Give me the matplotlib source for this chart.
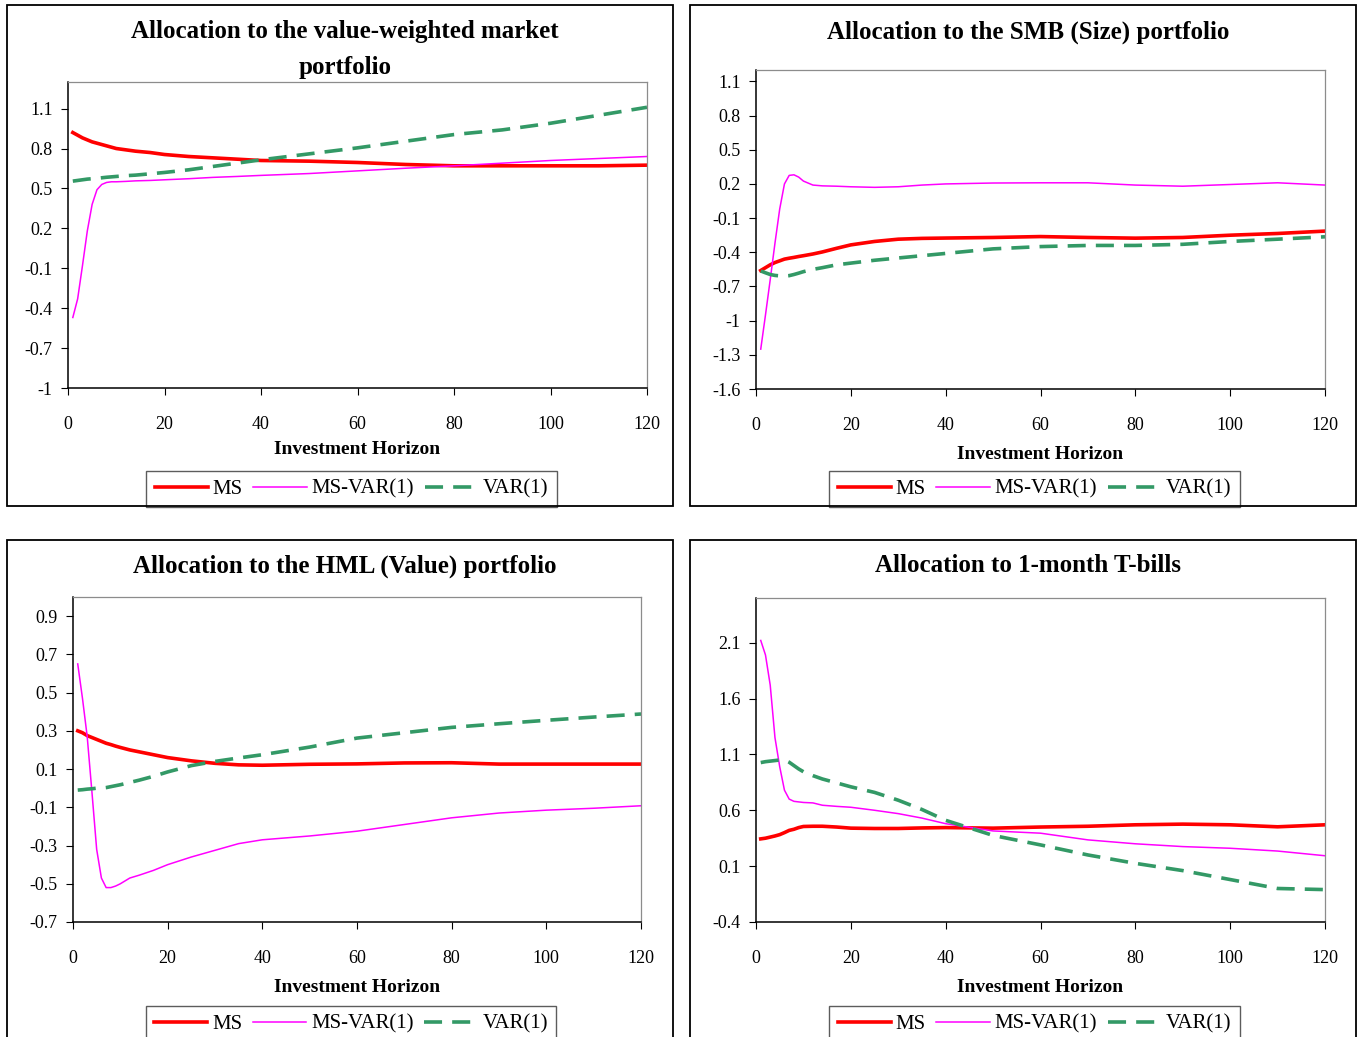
import matplotlib
matplotlib.use('Agg')
import matplotlib.pyplot as plt
from matplotlib.patches import Rectangle

plt.rcParams['font.family'] = ['Liberation Serif', 'DejaVu Serif']

# investment horizon (months) at which allocations are listed
horizon = [1, 2, 3, 4, 5, 6, 7, 8, 9, 10, 12, 14, 17, 20, 25, 30, 35, 40,
           50, 60, 70, 80, 90, 100, 110, 120]

mkt_ms = [0.92, 0.90, 0.88, 0.865, 0.85, 0.84, 0.83, 0.82, 0.81, 0.80, 0.79, 0.78, 0.77,
          0.755, 0.74, 0.73, 0.72, 0.71, 0.705, 0.695, 0.68, 0.67, 0.67, 0.67, 0.67, 0.675]
mkt_msvar = [-0.47, -0.33, -0.08, 0.18, 0.38, 0.49, 0.53, 0.545, 0.55, 0.55, 0.553, 0.557,
             0.56, 0.565, 0.573, 0.583, 0.59, 0.598, 0.612, 0.632, 0.652, 0.67, 0.69,
             0.71, 0.725, 0.74]
mkt_var = [0.555, 0.56, 0.565, 0.57, 0.573, 0.576, 0.58, 0.584, 0.587, 0.59, 0.596, 0.60,
           0.61, 0.62, 0.64, 0.665, 0.69, 0.715, 0.76, 0.805, 0.855, 0.905, 0.94, 0.99,
           1.05, 1.11]

smb_ms = [-0.56, -0.535, -0.51, -0.49, -0.475, -0.46, -0.452, -0.445, -0.437, -0.43,
          -0.415, -0.397, -0.365, -0.335, -0.305, -0.285, -0.278, -0.275, -0.27, -0.262,
          -0.27, -0.276, -0.27, -0.25, -0.235, -0.214]
smb_msvar = [-1.25, -0.95, -0.64, -0.32, -0.02, 0.2, 0.275, 0.28, 0.26, 0.225, 0.19, 0.183,
             0.18, 0.175, 0.17, 0.175, 0.19, 0.2, 0.208, 0.21, 0.21, 0.19, 0.18, 0.195,
             0.21, 0.19]
smb_var = [-0.564, -0.58, -0.595, -0.603, -0.607, -0.608, -0.605, -0.595, -0.583, -0.57,
           -0.55, -0.535, -0.51, -0.495, -0.47, -0.45, -0.43, -0.41, -0.37, -0.35, -0.34,
           -0.34, -0.33, -0.305, -0.285, -0.264]

hml_ms = [0.30, 0.29, 0.275, 0.265, 0.255, 0.245, 0.235, 0.228, 0.22, 0.213, 0.2, 0.19,
          0.175, 0.16, 0.143, 0.13, 0.122, 0.12, 0.125, 0.127, 0.132, 0.133, 0.126, 0.126,
          0.126, 0.126]
hml_msvar = [0.65, 0.47, 0.27, -0.02, -0.32, -0.47, -0.52, -0.52, -0.512, -0.5, -0.47,
             -0.455, -0.43, -0.40, -0.36, -0.325, -0.29, -0.27, -0.25, -0.225, -0.19,
             -0.155, -0.13, -0.115, -0.105, -0.092]
hml_var = [-0.01, -0.008, -0.005, -0.003, 0.0, 0.0, 0.003, 0.008, 0.013, 0.018, 0.03, 0.042,
           0.062, 0.085, 0.118, 0.14, 0.158, 0.175, 0.215, 0.262, 0.29, 0.318, 0.337,
           0.355, 0.372, 0.388]

tb_ms = [0.344, 0.35, 0.36, 0.37, 0.382, 0.40, 0.42, 0.43, 0.445, 0.455, 0.457, 0.457,
         0.45, 0.44, 0.437, 0.437, 0.442, 0.445, 0.44, 0.45, 0.457, 0.47, 0.476, 0.47,
         0.452, 0.47]
tb_msvar = [2.12, 1.99, 1.72, 1.25, 0.99, 0.78, 0.70, 0.68, 0.675, 0.67, 0.666, 0.645,
            0.635, 0.627, 0.6, 0.57, 0.53, 0.48, 0.415, 0.395, 0.335, 0.3, 0.275, 0.26,
            0.235, 0.193]
tb_var = [1.027, 1.035, 1.04, 1.045, 1.05, 1.05, 1.03, 1.0, 0.97, 0.945, 0.91, 0.88,
          0.845, 0.81, 0.76, 0.69, 0.607, 0.51, 0.375, 0.29, 0.2, 0.125, 0.06, -0.02,
          -0.10, -0.11]

titles = ['Allocation to the value-weighted market\nportfolio',
          'Allocation to the SMB (Size) portfolio',
          'Allocation to the HML (Value) portfolio',
          'Allocation to 1-month T-bills']
yticks = [[-1, -0.7, -0.4, -0.1, 0.2, 0.5, 0.8, 1.1],
          [-1.6, -1.3, -1, -0.7, -0.4, -0.1, 0.2, 0.5, 0.8, 1.1],
          [-0.7, -0.5, -0.3, -0.1, 0.1, 0.3, 0.5, 0.7, 0.9],
          [-0.4, 0.1, 0.6, 1.1, 1.6, 2.1]]
ylims = [(-1, 1.3), (-1.6, 1.2), (-0.7, 1.0), (-0.4, 2.5)]
series = [(mkt_ms, mkt_msvar, mkt_var), (smb_ms, smb_msvar, smb_var),
          (hml_ms, hml_msvar, hml_var), (tb_ms, tb_msvar, tb_var)]
xticks = [0, 20, 40, 60, 80, 100, 120]

W, H = 1358, 1037
fig = plt.figure(figsize=(W / 100, H / 100), dpi=100)


def fx(x):
    return x / W


def fy(y):
    return 1 - y / H


# pixel boxes: chart frame, plot area, title y, xlabel y, legend top
frames = [(7, 5, 673, 506), (690, 5, 1356, 506), (7, 540, 673, 1050), (690, 540, 1356, 1050)]
plots = [(68, 82, 647, 388), (756, 70, 1325, 389), (73, 597, 641, 922), (756, 598, 1325, 922)]
title_y = [49.5, 32, 566, 566]
xlabel_y = [449, 454, 987, 988]
legend_top = [471, 471, 1006, 1006]

for i in range(4):
    l, t, r, b = frames[i]
    fig.patches.append(Rectangle((fx(l), fy(b)), (r - l) / W, (b - t) / H,
                                 transform=fig.transFigure, fill=False,
                                 edgecolor='black', lw=1.3))
    pl, pt, pr, pb = plots[i]
    ax = fig.add_axes([fx(pl), fy(pb), (pr - pl) / W, (pb - pt) / H])
    ms, msvar, var = series[i]
    ax.plot(horizon, ms, color='#ff0000', lw=2.6, label='MS')
    ax.plot(horizon, msvar, color='#ff00ff', lw=1.1, label='MS-VAR(1)')
    ax.plot(horizon, var, color='#339966', lw=2.6, dashes=(5, 2.8), label='VAR(1)')

    ax.set_xlim(0, 120)
    ax.set_ylim(*ylims[i])
    ax.set_xticks(xticks)
    ax.set_xticklabels([str(v) for v in xticks])
    ax.set_yticks(yticks[i])
    ax.set_yticklabels([f'{v:g}' for v in yticks[i]])
    ax.tick_params(axis='x', direction='out', length=5, pad=15, labelsize=13)
    ax.tick_params(axis='y', direction='out', length=5, pad=6, labelsize=13)
    for s in ['top', 'right']:
        ax.spines[s].set_color('#8c8c8c')
        ax.spines[s].set_linewidth(0.9)
    for s in ['left', 'bottom']:
        ax.spines[s].set_linewidth(1.1)

    cx = (l + r) / 2
    fig.text(fx(cx + 5), fy(title_y[i]), titles[i], ha='center', va='center',
             fontsize=18, fontweight='bold', linespacing=1.75)
    fig.text(fx((pl + pr) / 2), fy(xlabel_y[i]), 'Investment Horizon',
             ha='center', va='center', fontsize=14, fontweight='bold')

    leg = ax.legend(loc='upper center', bbox_to_anchor=(fx((pl + pr) / 2 - 6), fy(legend_top[i])),
                    bbox_transform=fig.transFigure, ncol=3, fontsize=15,
                    frameon=True, fancybox=False, edgecolor='#333333',
                    handlelength=2.55, handletextpad=0.25, columnspacing=0.5,
                    borderpad=0.4, borderaxespad=0)
    leg.get_frame().set_linewidth(1.0)

fig.savefig('out.png', dpi=100, facecolor='white')
